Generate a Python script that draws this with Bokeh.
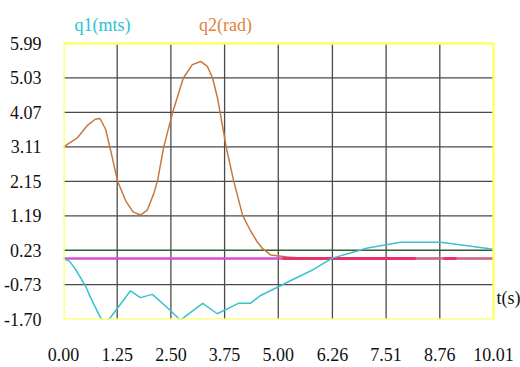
from bokeh.plotting import figure
from bokeh.models import FixedTicker, Label, Range1d, PrintfTickFormatter
from bokeh.embed import file_html
from bokeh.resources import INLINE

# ---- data ----
x_ticks = [0.00, 1.25, 2.50, 3.75, 5.00, 6.26, 7.51, 8.76, 10.01]
x_labels = ["0.00", "1.25", "2.50", "3.75", "5.00", "6.26", "7.51", "8.76", "10.01"]
y_ticks = [-1.70, -0.73, 0.23, 1.19, 2.15, 3.11, 4.07, 5.03, 5.99]
y_labels = ["-1.70", "-0.73", "0.23", "1.19", "2.15", "3.11", "4.07", "5.03", "5.99"]

q2_t = [0.00, 0.33, 0.55, 0.74, 0.85, 0.98, 1.10, 1.26, 1.45, 1.62, 1.79, 1.95, 2.10,
        2.19, 2.33, 2.54, 2.79, 3.00, 3.19, 3.35, 3.47, 3.58, 3.65, 3.79, 3.96, 4.17,
        4.35, 4.50, 4.63, 4.82, 5.21, 5.60, 6.50, 10.01]
q2_v = [3.11, 3.37, 3.70, 3.88, 3.90, 3.60, 3.00, 2.15, 1.60, 1.30, 1.21, 1.35, 1.80,
        2.17, 3.09, 4.07, 5.03, 5.40, 5.49, 5.35, 5.03, 4.50, 4.04, 3.09, 2.17, 1.20,
        0.78, 0.48, 0.28, 0.10, 0.04, 0.01, 0.00, 0.00]

q1_t = [0.00, 0.14, 0.28, 0.51, 0.63, 0.86, 0.95, 1.02, 1.09, 1.56, 1.79, 2.07, 2.49, 2.72,
        3.24, 3.58, 4.07, 4.35, 4.59, 5.05, 5.28, 5.75, 6.26, 7.08, 7.85, 8.08, 8.78, 9.31, 10.01]
q1_v = [0.00, -0.08, -0.30, -0.76, -1.09, -1.65, -1.75, -1.72, -1.65, -0.90, -1.09, -1.00, -1.45, -1.72,
        -1.25, -1.54, -1.25, -1.25, -1.03, -0.76, -0.62, -0.35, 0.01, 0.29, 0.45, 0.45, 0.45, 0.37, 0.26]

ref_t = [0.00, 10.01]
ref_v = [0.00, 0.00]

seg_t0 = [5.10, 8.85]
seg_t1 = [8.20, 9.15]
seg_v = [0.00, 0.00]

series_names = ["q1(mts)", "q2(rad)"]
axis_name = "t(s)"

FONT = "Times"
FS = "18px"

# ---- layout (pixels) ----
PLOT_W, PLOT_H = 430, 276        # size of the yellow box
LEFT, BOTTOM = 63, 48
EXTRA_TOP, EXTRA_RIGHT = 43, 27  # room kept inside the frame for the headings / t(s)
W, H = 520, 367

x0, x1 = x_ticks[0], x_ticks[-1]
y0, y1 = y_ticks[0], y_ticks[-1]
x_end = x1 + EXTRA_RIGHT * (x1 - x0) / PLOT_W
y_end = y1 + EXTRA_TOP * (y1 - y0) / PLOT_H

p = figure(width=W, height=H, output_backend="svg", toolbar_location=None,
           x_range=Range1d(x0, x_end), y_range=Range1d(y0, y_end),
           min_border_left=LEFT, min_border_right=0, min_border_top=0, min_border_bottom=BOTTOM)
p.background_fill_color = "white"
p.border_fill_color = "white"
p.outline_line_color = None
p.xgrid.visible = False
p.ygrid.visible = False

p.xaxis.ticker = FixedTicker(ticks=x_ticks)
p.yaxis.ticker = FixedTicker(ticks=y_ticks)
p.xaxis.formatter = PrintfTickFormatter(format="%.2f")
p.yaxis.formatter = PrintfTickFormatter(format="%.2f")
p.xaxis.major_label_overrides = {t: s for t, s in zip(x_ticks, x_labels)}
p.yaxis.major_label_overrides = {v: s for v, s in zip(y_ticks, y_labels)}
for ax in (p.xaxis, p.yaxis):
    ax.axis_line_color = None
    ax.major_tick_line_color = None
    ax.minor_tick_line_color = None
    ax.major_tick_in = 0
    ax.major_tick_out = 0
    ax.major_label_text_font = FONT
    ax.major_label_text_font_size = FS
    ax.major_label_text_color = "#111111"
p.xaxis.major_label_standoff = 28
p.yaxis.major_label_standoff = 22

# grid lines inside the box, from the tick arrays
inner_x = x_ticks[1:-1]
inner_y = [v for v in y_ticks[1:-1] if v != 0.23]
p.segment(x0=inner_x, y0=[y0] * len(inner_x), x1=inner_x, y1=[y1] * len(inner_x),
          line_color="#4a4a4a", line_width=1.3)
p.segment(x0=[x0] * len(inner_y), y0=inner_y, x1=[x1] * len(inner_y), y1=inner_y,
          line_color="#4a4a4a", line_width=1.3)
p.segment(x0=[x0], y0=[y_ticks[2]], x1=[x1], y1=[y_ticks[2]],
          line_color="#2f5f2f", line_width=1.3)

# series
p.line(ref_t, ref_v, line_color="#d24fd6", line_width=2.5)
p.line(q2_t, q2_v, line_color="#c8783c", line_width=1.5)
p.segment(x0=seg_t0, y0=seg_v, x1=seg_t1, y1=seg_v, line_color="#e8306a", line_width=3)
p.line(q1_t, q1_v, line_color="#3cc0d0", line_width=1.5)

# yellow box
p.quad(left=[x0], right=[x1], bottom=[y0], top=[y1], fill_color=None,
       line_color="#ffff66", line_width=2.5)

# headings and axis name
p.add_layout(Label(x=x0, y=y1, x_offset=39, y_offset=19, text=series_names[0],
                   text_align="center", text_baseline="middle",
                   text_font=FONT, text_font_size=FS, text_color="#2ec2d2"))
p.add_layout(Label(x=x0, y=y1, x_offset=162, y_offset=19, text=series_names[1],
                   text_align="center", text_baseline="middle",
                   text_font=FONT, text_font_size=FS, text_color="#e0823a"))
p.add_layout(Label(x=x1, y=y0, x_offset=3, y_offset=22, text=axis_name,
                   text_align="left", text_baseline="middle",
                   text_font=FONT, text_font_size=FS, text_color="#111111"))

open("out.html", "w").write(file_html(p, INLINE))
